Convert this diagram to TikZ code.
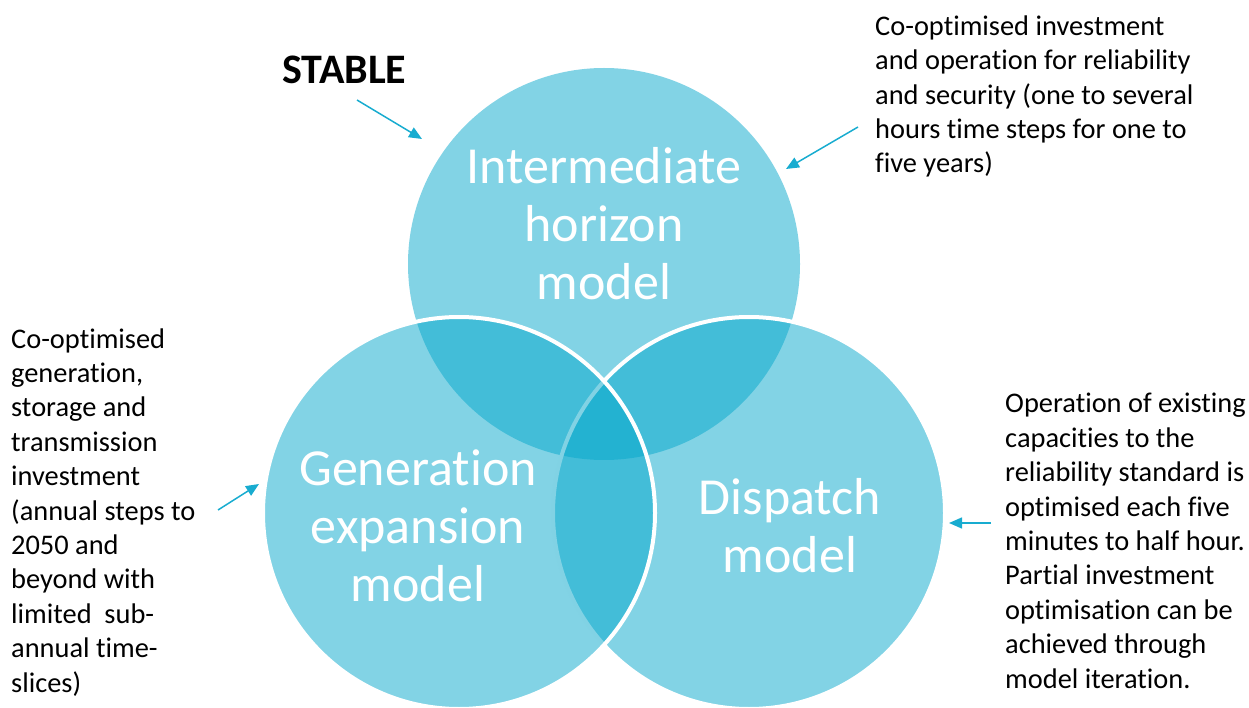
\documentclass[tikz,border=0pt]{standalone}
\usepackage{fontspec}
\setmainfont{Carlito}[Ligatures=NoCommon]
\usetikzlibrary{arrows.meta}
\definecolor{vennblue}{RGB}{5,167,203}
\definecolor{pointer}{RGB}{24,172,208}
\begin{document}
\begin{tikzpicture}[x=1pt,y=-1pt,
  venn/.style={circle,minimum size=392pt,inner sep=0pt,fill=vennblue,fill opacity=0.5},
  rimmed/.style={venn,draw=white,line width=4pt,draw opacity=1},
  biglabel/.style={text=white,align=center,font=\fontsize{52}{58}\selectfont},
  note/.style={align=left,inner sep=0pt,anchor=base west,font=\fontsize{28.4}{34.4}\selectfont},
  pointto/.style={draw=pointer,line width=1.5pt,-{Triangle[length=13pt,width=11pt]}}]
\useasboundingbox (0,0) rectangle (1249,708);

% the three overlapping model circles
\node[venn]   (inter) at (604,264) {};
\node[rimmed] (disp)  at (749,513) {};
\node[rimmed] (gen)   at (459,513) {};

% circle captions
\node[biglabel] (interlbl) at (604,224) {Intermediate\\horizon\\model};
\node[biglabel] (genlbl)   at (418,526) {Generation\\expansion\\model};
\node[biglabel] (displbl)  at (790,526) {Dispatch\\model};

% heading
\node[anchor=west,inner sep=0pt,font=\fontsize{42}{48}\selectfont\bfseries] (stable) at (282,70) {STABLE};

% side descriptions (anchored on the baseline of their last line)
\node[note] (internote) at (875,173) {Co-optimised investment\\and operation for reliability\\and security (one to several\\hours time steps for one to\\five years)};
\node[note] (gennote) at (11,692) {Co-optimised\\generation,\\storage and\\transmission\\investment\\(annual steps to\\2050 and\\beyond with\\limited~ sub-\\annual time-\\slices)};
\node[note] (dispnote) at (1005,688) {Operation of existing\\capacities to the\\reliability standard is\\optimised each five\\minutes to half hour.\\Partial investment\\optimisation can be\\achieved through\\model iteration.};

% pointer arrows
\coordinate (s1) at (357,100);  \coordinate (e1) at (422,139);
\coordinate (s2) at (858,127);  \coordinate (e2) at (786,169);
\coordinate (s3) at (218,510);  \coordinate (e3) at (259,484);
\coordinate (s4) at (991,523);  \coordinate (e4) at (949,523);
\draw[pointto] (s1) -- (e1);
\draw[pointto] (s2) -- (e2);
\draw[pointto] (s3) -- (e3);
\draw[pointto] (s4) -- (e4);
\end{tikzpicture}
\end{document}
